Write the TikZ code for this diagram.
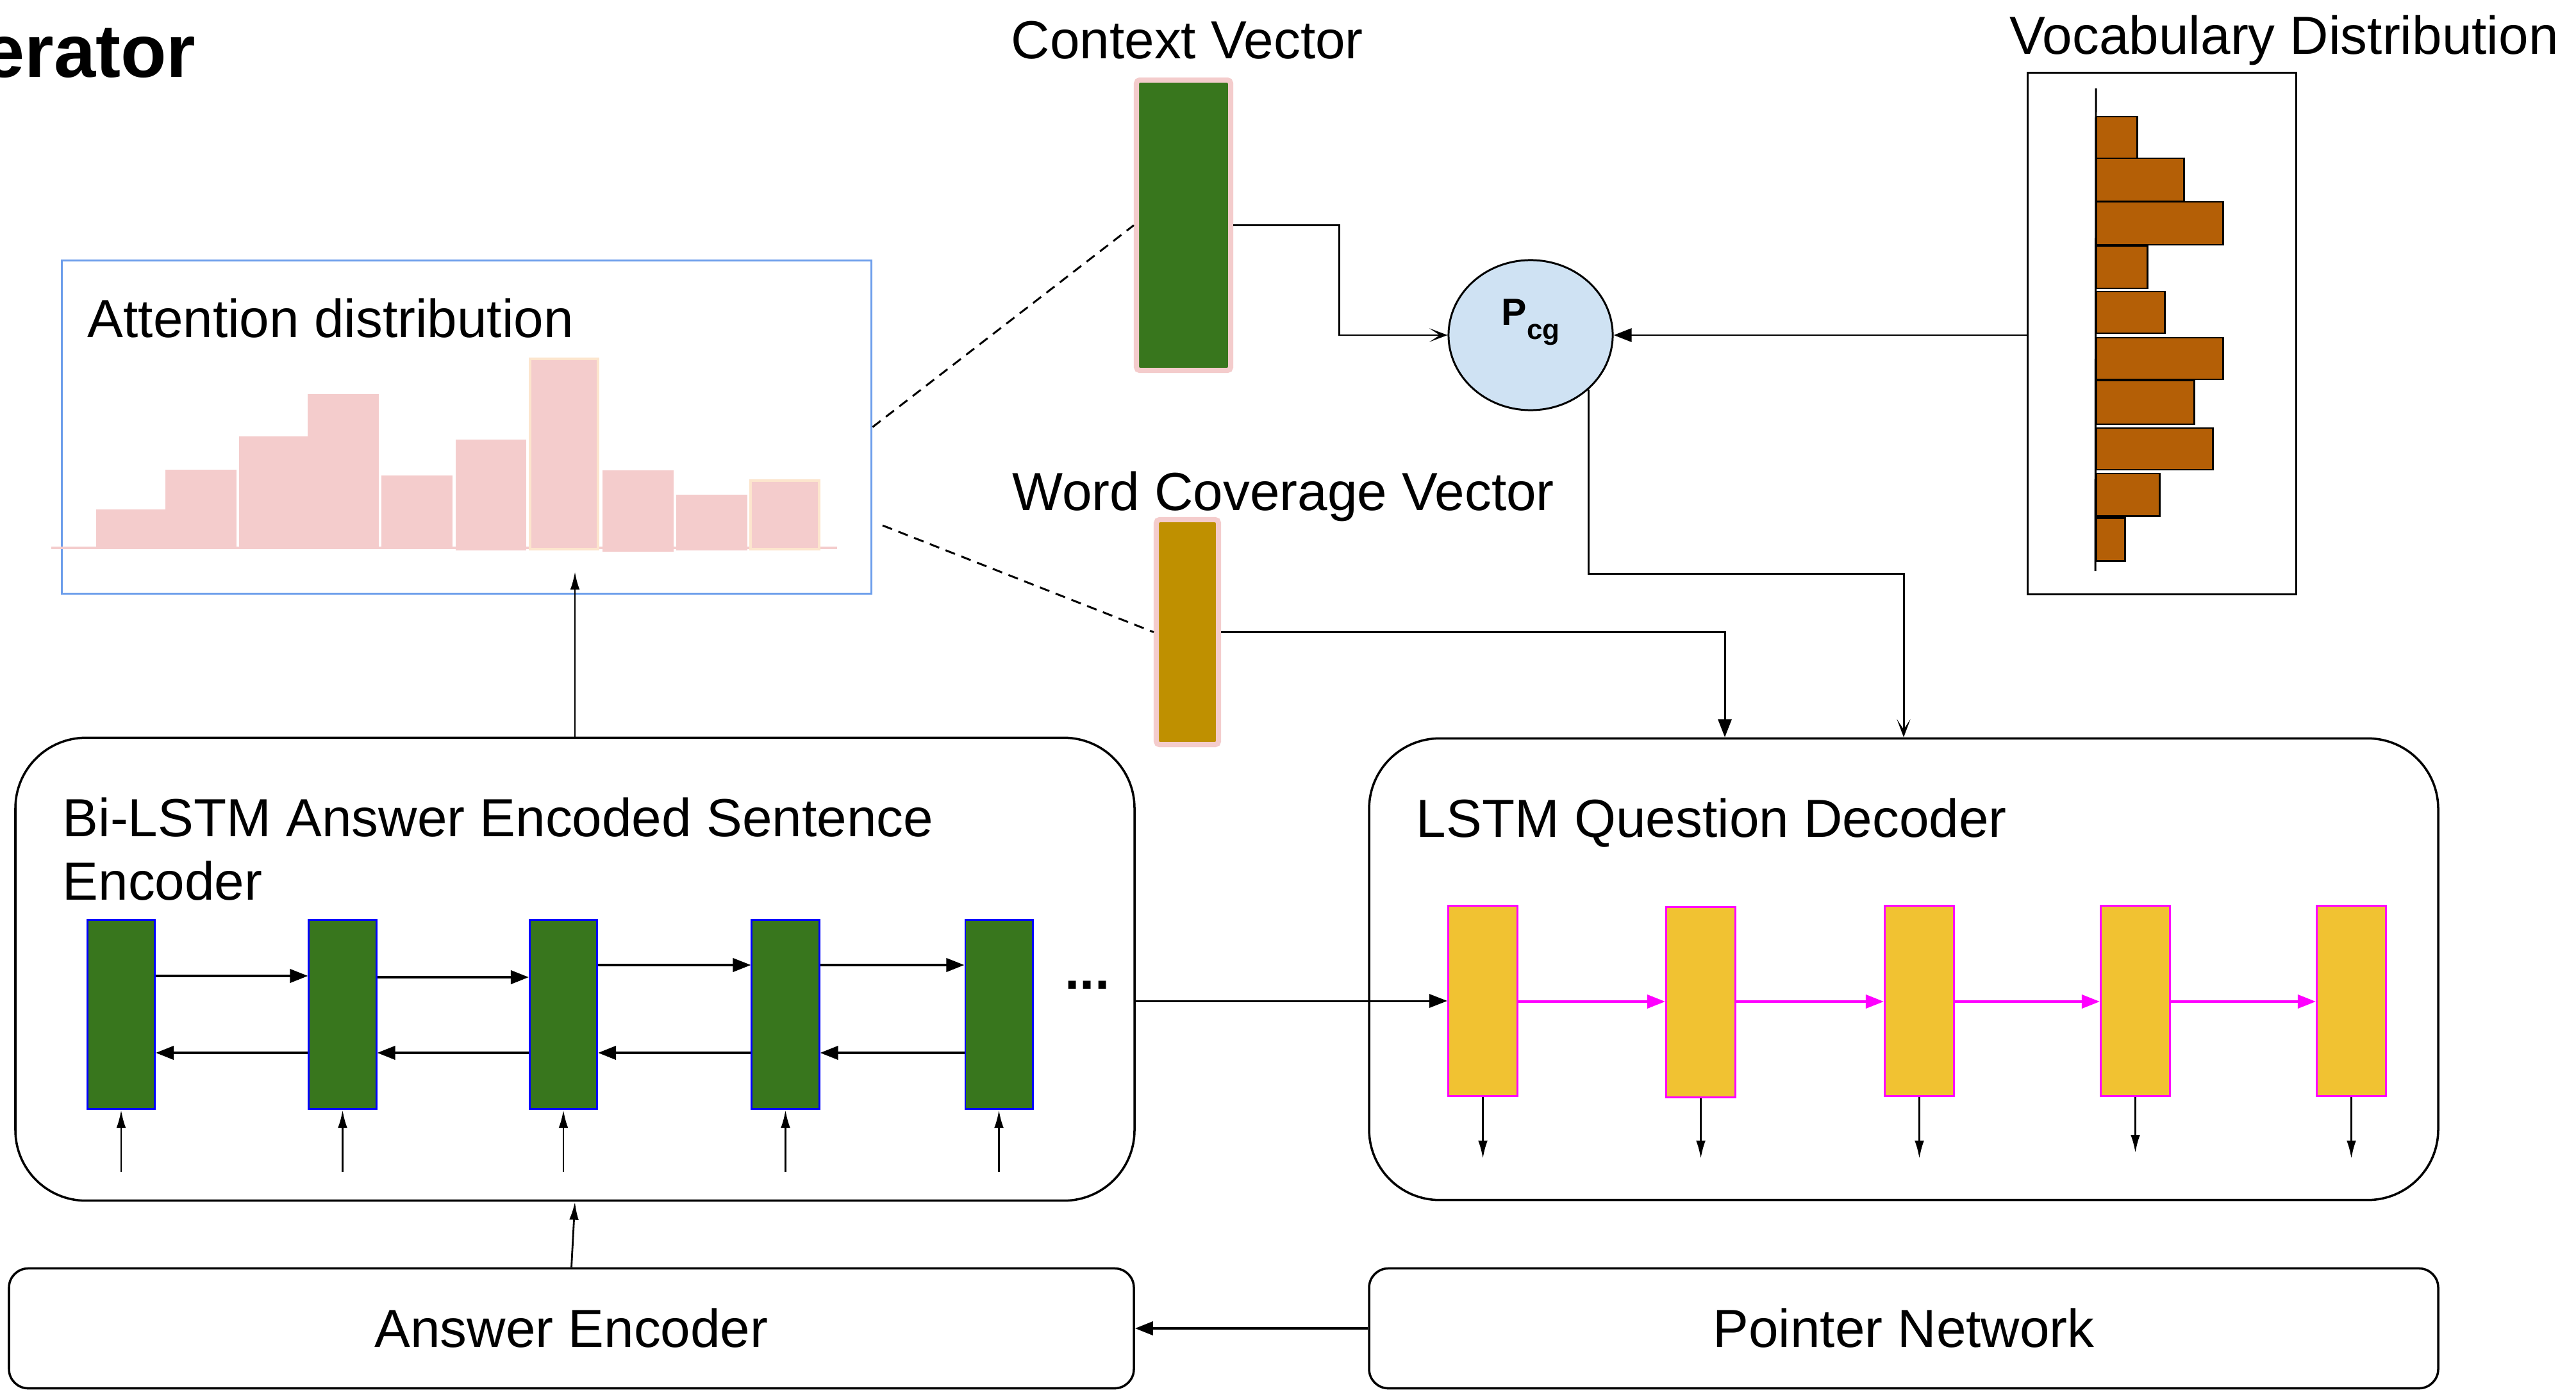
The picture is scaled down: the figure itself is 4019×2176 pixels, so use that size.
\documentclass[tikz,border=0pt]{standalone}
\usepackage{fontspec}
\setmainfont{Liberation Sans}
\usetikzlibrary{arrows.meta,shapes.geometric}

\definecolor{cellgreen}{HTML}{38761D}
\definecolor{covgold}{HTML}{BF9000}
\definecolor{vecpink}{HTML}{F4CCCC}
\definecolor{hlpeach}{HTML}{FCE5CD}
\definecolor{attblue}{HTML}{6D9EEB}
\definecolor{pcgblue}{HTML}{CFE2F3}
\definecolor{vocbrown}{HTML}{B45F06}
\definecolor{decyellow}{HTML}{F1C232}
\definecolor{magentac}{HTML}{FF00FF}
\definecolor{lstmblue}{HTML}{0000FF}

\newcommand\lblfont{\fontsize{23.8pt}{27.9pt}\selectfont}

\begin{document}
\begin{tikzpicture}[x=0.01cm,y=-0.01cm,font=\lblfont,
  lbl/.style={inner sep=0,anchor=base west},
  vecbox/.style={draw=vecpink,line width=2.3pt,rounded corners=1.5pt,inner sep=0},
  enccell/.style={draw=lstmblue,fill=cellgreen,line width=0.85pt,inner sep=0,
    minimum width=1.05cm,minimum height=2.95cm},
  deccell/.style={draw=magentac,fill=decyellow,line width=0.85pt,inner sep=0,
    minimum width=1.08cm,minimum height=2.97cm},
  bigbox/.style={draw,line width=1pt,rounded corners=1.1cm,inner sep=0},
  flatbox/.style={draw,line width=1pt,rounded corners=0.3cm,inner sep=0},
  tri/.style={-{Triangle[length=8pt,width=6pt]},line width=0.85pt},
  trithick/.style={-{Triangle[length=8pt,width=6pt]},line width=1.1pt},
  barb/.style={-{Stealth[length=8pt,width=6pt,inset=4.5pt]},line width=0.85pt},
  slim/.style={-{Latex[length=8pt,width=4.2pt]},line width=0.8pt},
  dashlink/.style={line width=0.85pt,dash pattern=on 4.5pt off 3pt}]

\useasboundingbox (0,0) rectangle (4019,2176);
\fill[white] (0,0) rectangle (4019,2176);

% heading
\node[inner sep=0,anchor=base east,font=\fontsize{33.3pt}{40pt}\selectfont\bfseries]
  (title) at (306,121) {erator};

% attention distribution panel
\node[draw=attblue,line width=0.85pt,inner sep=0,minimum width=12.63cm,minimum height=5.2cm]
  (attn) at (728,666.5) {};
\node[lbl] (attnlbl) at (136,526) {Attention distribution};
\fill[vecpink] (80,853) rectangle (1306,857);
\foreach \l/\r/\t/\b in {150/258/795/855, 258/369/733/855, 373/480/681/855,
    480/591/615/855, 595/706/742/853, 711/821/686/859, 940/1051/734/861,
    1055/1166/772/859}
  \fill[vecpink] (\l,\t) rectangle (\r,\b);
\foreach \l/\r/\t/\b in {825/935/558/859, 1169/1280/748/859}
  \draw[fill=vecpink,draw=hlpeach,line width=1.1pt] (\l+2,\t+2) rectangle (\r-2,\b-2);

% context and coverage vectors
\node[lbl] (ctxlbl) at (1577,92) {Context Vector};
\node[vecbox,fill=cellgreen,minimum width=1.47cm,minimum height=4.53cm] (ctx) at (1846.5,351.5) {};
\node[lbl] (covlbl) at (1579,796) {Word Coverage Vector};
\node[vecbox,fill=covgold,minimum width=0.97cm,minimum height=3.51cm] (cov) at (1852.5,986.5) {};

% generation probability
\node[ellipse,draw,fill=pcgblue,line width=0.85pt,inner sep=0,minimum width=2.56cm,
  minimum height=2.34cm] (pcg) at (2388,523) {};
\node[inner sep=0,anchor=base west,font=\bfseries\fontsize{16.8pt}{20pt}\selectfont]
  (pcgtext) at (2342,508) {P\raisebox{-6pt}{\fontsize{12.5pt}{15pt}\selectfont cg}};

% vocabulary distribution
\node[lbl] (voclbl) at (3135,85) {Vocabulary Distribution};
\node[draw,line width=0.85pt,inner sep=0,minimum width=4.19cm,minimum height=8.14cm]
  (vocab) at (3373,520.5) {};
\foreach \t/\b/\r in {182/247/3334, 247/314/3407, 315/382/3468, 384/450/3350,
    455/520/3377, 527/592/3468, 594/662/3423, 668/733/3452, 739/805/3369, 808/875/3315}
  \draw[fill=vocbrown,line width=0.85pt] (3270,\t) rectangle (\r,\b);
\draw[line width=0.85pt] (3270,138) -- (3269,891);

% encoder block
\node[bigbox,minimum width=17.45cm,minimum height=7.22cm] (bilstm) at (897,1512.5) {};
\node[lbl,align=left] (bilstmlbl) at (97,1404) {Bi-LSTM Answer Encoded Sentence\\Encoder};
\foreach \i/\x in {1/189, 2/534.5, 3/879, 4/1225.5, 5/1558.5}
  \node[enccell] (e\i) at (\x,1583) {};
\node[inner sep=0,anchor=base west,font=\lblfont\bfseries] (dots) at (1661,1543) {...};

\draw[trithick] (e1.east |- 0,1523) -- (e2.west |- 0,1523);
\draw[trithick] (e2.east |- 0,1525) -- (e3.west |- 0,1525);
\draw[trithick] (e3.east |- 0,1506) -- (e4.west |- 0,1506);
\draw[trithick] (e4.east |- 0,1506) -- (e5.west |- 0,1506);
\foreach \a/\b in {2/1, 3/2, 4/3, 5/4}
  \draw[trithick] (e\a.west |- 0,1643) -- (e\b.east |- 0,1643);
\foreach \i in {1,...,5}
  \draw[slim] ([yshift=-0.97cm]e\i.south) -- (e\i.south);

% decoder block
\node[bigbox,minimum width=16.67cm,minimum height=7.2cm] (dec) at (2970,1512.5) {};
\node[lbl] (declbl) at (2209,1306) {LSTM Question Decoder};
\foreach \i/\x/\y in {1/2313.5/1562, 2/2653.5/1564, 3/2994.5/1562, 4/3331.5/1562, 5/3668.5/1562}
  \node[deccell] (d\i) at (\x,\y) {};
\foreach \a/\b in {1/2, 2/3, 3/4, 4/5}
  \draw[-{Triangle[length=8pt,width=6pt]},line width=1.1pt,magentac]
    (d\a.east |- 0,1563) -- (d\b.west |- 0,1563);
\foreach \i/\d in {1/0.96, 2/0.94, 3/0.96, 4/0.87, 5/0.96}
  \draw[slim] (d\i.south) -- ([yshift=-\d cm]d\i.south);

\draw[tri] (bilstm.east |- d1.west) -- (d1.west);

% bottom row
\node[flatbox,minimum width=17.54cm,minimum height=1.87cm] (ans) at (891.5,2073) {Answer Encoder};
\node[flatbox,minimum width=16.67cm,minimum height=1.87cm] (ptr) at (2970,2073) {Pointer Network};
\draw[trithick] (ptr.west) -- (ans.east);
\draw[slim] (ans.north) -- (bilstm.south);

% links between the upper parts
\coordinate (attnin) at (897,892);
\draw[slim] (bilstm.north) -- (attnin);
\coordinate (covtail) at (1377,820);
\draw[dashlink] (attn.east) -- (ctx.west);
\draw[dashlink] (covtail) -- (cov.west);

\draw[barb] (ctx.east) -- (ctx.east -| 2089,0) |- (pcg.west);
\draw[tri] (vocab.west |- pcg.east) -- (pcg.east);
\draw[barb] (pcg.-43) |- (dec.north |- 0,895) -- (dec.north);
\draw[tri] (cov.east) -| (dec.north -| 2691,0);

\end{tikzpicture}
\end{document}
